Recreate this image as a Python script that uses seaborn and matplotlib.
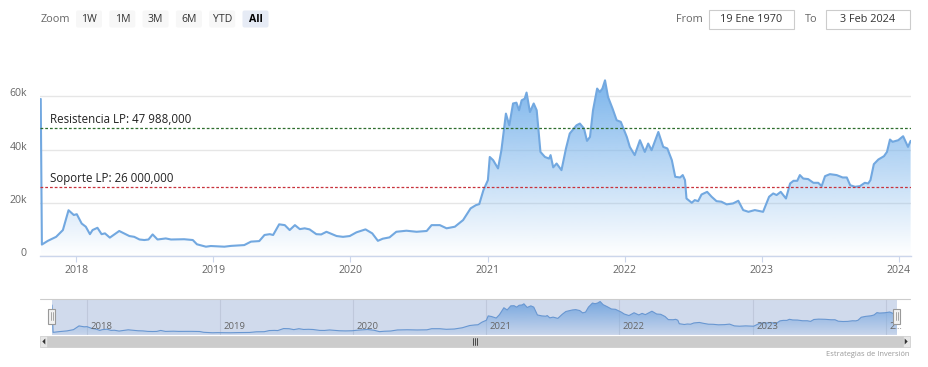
#-------------------------
# 📚 Import libraries
#-------------------------
import numpy as np
import pandas as pd
import matplotlib
matplotlib.use("Agg")
import matplotlib.pyplot as plt
import matplotlib.colors as mcolors
import matplotlib.dates as mdates
from matplotlib.patches import Rectangle, FancyBboxPatch, Polygon
from matplotlib.transforms import ScaledTranslation
import seaborn as sns

# ----------------------------
# 📦 Data (price in k)
# ----------------------------
fechas = [
    '2017-09-28', '2017-10-01', '2017-10-17', '2017-11-08', '2017-11-26', '2017-12-11', '2017-12-25',
    '2018-01-02', '2018-01-15', '2018-01-26', '2018-02-06', '2018-02-13', '2018-02-26', '2018-03-09',
    '2018-03-18', '2018-03-31', '2018-04-25', '2018-05-22', '2018-06-04', '2018-06-18', '2018-07-01',
    '2018-07-12', '2018-07-23', '2018-08-05', '2018-08-27', '2018-09-10', '2018-10-15', '2018-11-07',
    '2018-11-18', '2018-12-12', '2018-12-25', '2019-01-30', '2019-02-17', '2019-03-24', '2019-04-11',
    '2019-05-03', '2019-05-17', '2019-05-31', '2019-06-09', '2019-06-25', '2019-07-10', '2019-07-23',
    '2019-08-06', '2019-08-19', '2019-09-01', '2019-09-14', '2019-10-02', '2019-10-15', '2019-10-29',
    '2019-11-25', '2019-12-12', '2019-12-30', '2020-01-17', '2020-02-10', '2020-02-28', '2020-03-14',
    '2020-03-27', '2020-04-14', '2020-05-02', '2020-05-29', '2020-06-25', '2020-07-22', '2020-08-04',
    '2020-08-26', '2020-09-13', '2020-10-05', '2020-10-27', '2020-11-16', '2020-11-30', '2020-12-09',
    '2020-12-20', '2020-12-24', '2021-01-01', '2021-01-06', '2021-01-15', '2021-01-28', '2021-02-06',
    '2021-02-18', '2021-02-27', '2021-03-09', '2021-03-18', '2021-03-25', '2021-04-01', '2021-04-09',
    '2021-04-14', '2021-04-23', '2021-05-03', '2021-05-11', '2021-05-21', '2021-06-02', '2021-06-13',
    '2021-06-17', '2021-06-24', '2021-07-03', '2021-07-16', '2021-07-28', '2021-08-07', '2021-08-25',
    '2021-09-03', '2021-09-14', '2021-09-22', '2021-09-30', '2021-10-08', '2021-10-19', '2021-10-26',
    '2021-11-02', '2021-11-09', '2021-11-17', '2021-11-29', '2021-12-10', '2021-12-21', '2021-12-30',
    '2022-01-06', '2022-01-14', '2022-01-27', '2022-02-10', '2022-02-23', '2022-03-04', '2022-03-13',
    '2022-03-31', '2022-04-13', '2022-04-24', '2022-05-06', '2022-05-15', '2022-05-28', '2022-06-04',
    '2022-06-10', '2022-06-14', '2022-06-28', '2022-07-06', '2022-07-15', '2022-07-24', '2022-08-08',
    '2022-08-20', '2022-09-02', '2022-09-15', '2022-09-29', '2022-10-16', '2022-10-30', '2022-11-12',
    '2022-11-26', '2022-12-13', '2023-01-04', '2023-01-20', '2023-01-31', '2023-02-09', '2023-02-20',
    '2023-03-06', '2023-03-17', '2023-03-26', '2023-04-05', '2023-04-12', '2023-04-21', '2023-05-04',
    '2023-05-18', '2023-05-31', '2023-06-09', '2023-06-18', '2023-07-01', '2023-07-19', '2023-08-04',
    '2023-08-15', '2023-08-24', '2023-09-06', '2023-09-19', '2023-10-02', '2023-10-11', '2023-10-17',
    '2023-10-26', '2023-11-07', '2023-11-22', '2023-11-30', '2023-12-08', '2023-12-15', '2023-12-24',
    '2023-12-30', '2024-01-12', '2024-01-25', '2024-02-01',
]
precio_k = [
    59.0, 4.3, 5.7, 7.2, 9.75, 17.2, 15.4,
    15.7, 12.2, 11.0, 8.2, 9.75, 10.6, 8.2,
    8.5, 6.9, 9.4, 7.5, 7.2, 6.2, 6.0,
    6.2, 8.1, 6.2, 6.6, 6.2, 6.3, 6.0,
    4.4, 3.5, 3.75, 3.5, 3.8, 4.1, 5.4,
    5.6, 7.9, 8.2, 7.9, 11.9, 11.6, 9.75,
    11.6, 10.1, 10.4, 10.0, 8.2, 8.1, 9.1,
    7.5, 7.2, 7.5, 8.9, 10.0, 8.5, 5.7,
    6.5, 7.0, 9.1, 9.5, 9.1, 9.4, 11.6,
    11.6, 10.4, 11.0, 13.5, 17.9, 19.1, 19.5,
    24.7, 26.0, 28.5, 37.2, 36.0, 32.9, 39.75,
    53.5, 49.1, 57.3, 57.6, 54.75, 58.5, 59.1,
    61.4, 54.1, 57.3, 54.75, 39.1, 37.2, 36.6,
    37.9, 33.3, 34.75, 32.25, 40.4, 46.0, 49.1,
    49.75, 47.9, 43.25, 44.75, 54.75, 62.9, 61.6,
    62.9, 66.0, 59.75, 55.4, 51.0, 50.4, 47.25,
    44.75, 41.0, 37.9, 43.5, 39.1, 42.25, 39.75,
    46.6, 41.0, 40.4, 36.0, 29.75, 29.5, 30.4,
    28.5, 21.6, 20.0, 21.0, 20.6, 23.1, 24.1,
    22.25, 20.6, 20.4, 19.4, 19.75, 20.75, 17.25,
    16.6, 17.25, 16.6, 22.25, 23.5, 22.9, 24.1,
    21.6, 27.25, 28.25, 28.25, 30.4, 29.1, 28.9,
    27.5, 27.5, 26.25, 30.0, 30.75, 30.4, 29.5,
    29.5, 26.6, 26.0, 26.25, 27.5, 27.25, 28.5,
    34.5, 36.25, 37.5, 39.1, 43.75, 42.9, 43.25,
    43.5, 45.0, 41.0, 43.25,
]
resistencia = 47988
soporte = 26000
etiqueta_res = 'Resistencia LP: 47 988,000'
etiqueta_sop = 'Soporte LP: 26 000,000'
y_ticks = [0, 20000, 40000, 60000]
y_labels = ['0', '20k', '40k', '60k']
anios = ['2018', '2019', '2020', '2021', '2022', '2023', '2024']
anios_nav = ['2018', '2019', '2020', '2021', '2022', '2023', '2…']
botones = ['1W', '1M', '3M', '6M', 'YTD', 'All']
desde = '19 Ene 1970'
hasta = '3 Feb 2024'
credito = 'Estrategias de Inversión'

df = pd.DataFrame({'fecha': pd.to_datetime(fechas), 'precio': np.array(precio_k) * 1000})

AZUL = '#7cb5ec'
LINEA = '#72a8e0'
GRIS_TXT = '#666666'
W, H = 929, 367


def caja(l, t, r, b):
    # pixel box (top-left origin) -> figure fraction
    return [l / W, 1 - b / H, (r - l) / W, (b - t) / H]


# ----------------------------
# 🎨 Gradient area under a line
# ----------------------------
def area_degradada(ax, x, y, techo, a_top=1.0, a_bot=0.0):
    poly = ax.fill_between(x, y, 0, facecolor='none', edgecolor='none')
    rgb = mcolors.to_rgb(AZUL)
    grad = np.zeros((256, 1, 4))
    grad[:, 0, :3] = rgb
    grad[:, 0, 3] = np.linspace(a_top, a_bot, 256)
    x0, x1 = mdates.date2num(x.min()), mdates.date2num(x.max())
    im = ax.imshow(grad, aspect='auto', extent=[x0, x1, 0, techo],
                   origin='upper', zorder=1, interpolation='bilinear')
    im.set_clip_path(poly.get_paths()[0], transform=ax.transData)


# ----------------------------
# 📈 Figure
# ----------------------------
sns.set_theme(style='white')
plt.rcParams['font.family'] = ['Open Sans', 'DejaVu Sans']

fig = plt.figure(figsize=(W / 100, H / 100), dpi=100)

# main chart
ax = fig.add_axes(caja(40, 75, 911, 256))
area_degradada(ax, df['fecha'], df['precio'], 66000)
sns.lineplot(data=df, x='fecha', y='precio', ax=ax, color=LINEA, lw=1.5, zorder=3)
ax.axhline(resistencia, color='#2e6e2e', ls=(0, (2.2, 1.6)), lw=0.9, zorder=4)
ax.axhline(soporte, color='#c8323c', ls=(0, (2.2, 1.6)), lw=0.9, zorder=4)
for valor, txt in [(resistencia, etiqueta_res), (soporte, etiqueta_sop)]:
    ax.annotate(txt, xy=(10 / 871, valor), xycoords=('axes fraction', 'data'),
                xytext=(0, 1.5), textcoords='offset points', va='bottom', ha='left',
                fontsize=8.3, color='#222222', zorder=5)

ax.set_xlim(pd.Timestamp('2017-09-26'), pd.Timestamp('2024-02-02'))
ax.set_ylim(0, 68000)
ax.set_yticks(y_ticks)
ax.set_yticklabels(y_labels)
ax.set_xticks(pd.to_datetime([a + '-01-01' for a in anios]))
ax.set_xticklabels(anios)
ax.set_xlabel('')
ax.set_ylabel('')
ax.yaxis.grid(True, color='#e6e6e6', lw=1)
ax.xaxis.grid(False)
for s in ['top', 'left', 'right']:
    ax.spines[s].set_visible(False)
ax.spines['bottom'].set_color('#ccd6eb')
ax.spines['bottom'].set_linewidth(1)
ax.tick_params(axis='y', length=0, pad=9.4, labelsize=7.6, labelcolor=GRIS_TXT)
ax.tick_params(axis='x', bottom=True, length=4.5, width=0.8, color='#ccd6eb', pad=2,
               labelsize=7.6, labelcolor=GRIS_TXT)
for lab in ax.get_yticklabels():
    lab.set_transform(lab.get_transform() + ScaledTranslation(0, 4 / 100, fig.dpi_scale_trans))

# navigator
nav = fig.add_axes(caja(52, 299, 897, 335))
area_degradada(nav, df['fecha'], df['precio'], 66000, a_top=0.95, a_bot=0.1)
sns.lineplot(data=df, x='fecha', y='precio', ax=nav, color='#6a9fd8', lw=0.8, zorder=3)
nav.set_xlim(df['fecha'].min(), df['fecha'].max())
nav.set_ylim(-1000, 71000)
nav.axvspan(df['fecha'].min(), df['fecha'].max(), color=(102 / 255, 133 / 255, 194 / 255, 0.3), lw=0, zorder=4)
for a, lab in zip(anios, anios_nav):
    t = pd.Timestamp(a + '-01-01')
    nav.axvline(t, color='#e6e6e6', lw=0.8, zorder=0.5)
    nav.annotate(lab, xy=(t, 0), xycoords=('data', 'axes fraction'), xytext=(2.5, 3),
                 textcoords='offset points', fontsize=6.8, color=GRIS_TXT, va='bottom', zorder=6)
nav.set_axis_off()

# ----------------------------
# 🧩 Overlay: buttons, inputs, scrollbar
# ----------------------------
ov = fig.add_axes([0, 0, 1, 1], zorder=10)
ov.set_xlim(0, W)
ov.set_ylim(H, 0)
ov.set_axis_off()
ov.patch.set_alpha(0)

ov.text(55, 19, 'Zoom', fontsize=7.8, color=GRIS_TXT, ha='center', va='center')
for i, b in enumerate(botones):
    cx = 89 + i * 33.3
    sel = b == 'All'
    ov.add_patch(FancyBboxPatch((cx - 13, 10.5), 26, 17, boxstyle='round,pad=0,rounding_size=2',
                                fc='#e6ebf5' if sel else '#f7f7f7', ec='none'))
    ov.text(cx, 19, b, fontsize=7.6, color='#000000' if sel else '#333333',
            fontweight='bold' if sel else 'normal', ha='center', va='center')

ov.text(689, 19, 'From', fontsize=7.8, color=GRIS_TXT, ha='center', va='center')
ov.text(811, 19, 'To', fontsize=7.8, color=GRIS_TXT, ha='center', va='center')
for l, r, txt in [(709, 794, desde), (826, 910, hasta)]:
    ov.add_patch(Rectangle((l, 10), r - l, 19, fc='white', ec='#cccccc', lw=0.8))
    ov.text((l + r) / 2, 19.5, txt, fontsize=7.8, color='#333333', ha='center', va='center')

# navigator outline and handles
ov.plot([40, 910], [299, 299], color='#cccccc', lw=0.8)
for hx in [52, 897]:
    ov.add_patch(Rectangle((hx - 3.5, 308.5), 7, 15, fc='#f2f2f2', ec='#999999', lw=0.8))
    ov.plot([hx - 1, hx - 1], [312, 320], color='#999999', lw=0.6)
    ov.plot([hx + 1, hx + 1], [312, 320], color='#999999', lw=0.6)

# scrollbar
ov.add_patch(Rectangle((40, 335.5), 870, 11.5, fc='#f2f2f2', ec='#f2f2f2', lw=0.5))
ov.add_patch(Rectangle((47, 335.5), 856, 11.5, fc='#cccccc', ec='#cccccc', lw=0.5))
for l in [40, 903]:
    ov.add_patch(Rectangle((l, 335.5), 7, 11.5, fc='#e6e6e6', ec='#cccccc', lw=0.5))
ov.add_patch(Polygon([[45.3, 338.5], [45.3, 344.5], [42.3, 341.5]], closed=True, fc='#333333', ec='none'))
ov.add_patch(Polygon([[904.7, 338.5], [904.7, 344.5], [907.7, 341.5]], closed=True, fc='#333333', ec='none'))
for gx in [473, 475, 477]:
    ov.plot([gx, gx], [338, 345], color='#333333', lw=0.6)

ov.text(910, 354, credito, fontsize=5.4, color='#999999', ha='right', va='center')

fig.savefig('out.png', dpi=100)
